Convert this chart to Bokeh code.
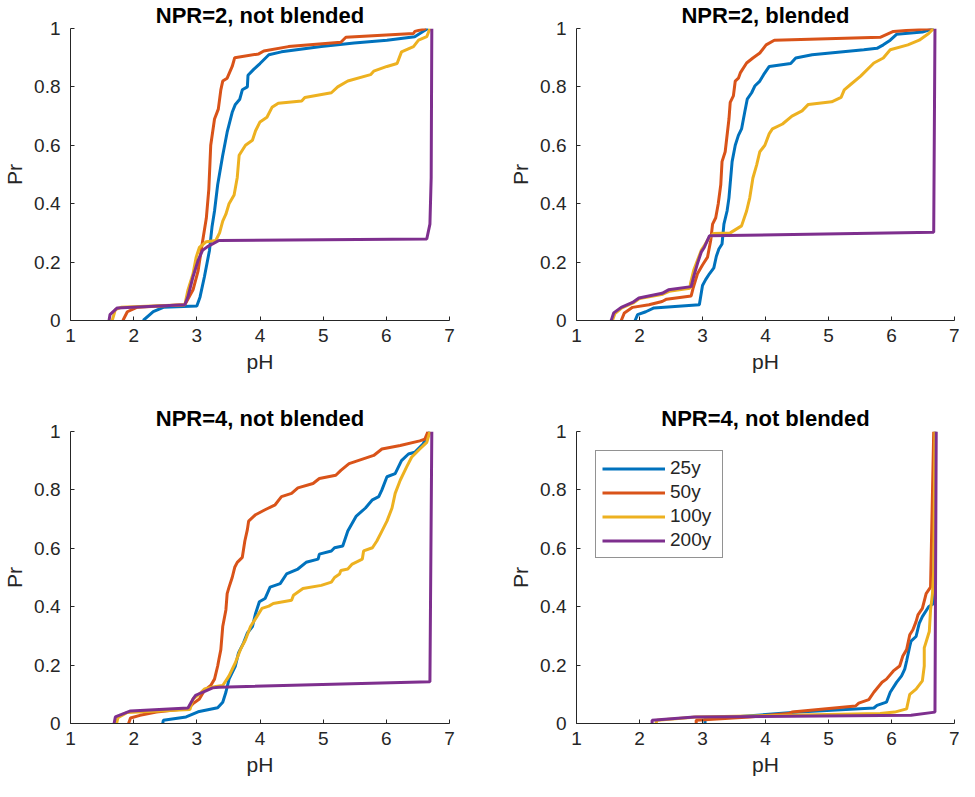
from bokeh.plotting import figure
from bokeh.layouts import column, row
from bokeh.models import FixedTicker, NumeralTickFormatter, Range1d, Legend, LegendItem
from bokeh.embed import file_html
from bokeh.resources import INLINE

FONT = "Liberation Sans"
COLORS = ["#0072BD", "#D95319", "#EDB120", "#7E2F8E"]
SERIES = ["25y", "50y", "100y", "200y"]
TITLES = ["NPR=2, not blended", "NPR=2, blended", "NPR=4, not blended", "NPR=4, not blended"]
X_TICKS = [1, 2, 3, 4, 5, 6, 7]
Y_TICKS = [0, 0.2, 0.4, 0.6, 0.8, 1]

# ---- panel 1: NPR=2, not blended ----
tl_25_x = [2.15, 2.31, 2.47, 3.00, 3.05, 3.12, 3.20, 3.24, 3.28, 3.33, 3.41, 3.48, 3.56, 3.61, 3.68, 3.72, 3.80, 3.81, 3.90, 4.00, 4.14, 4.34, 4.97, 5.49, 6.01, 6.45, 6.58, 6.66]
tl_25_y = [0.0, 0.03, 0.045, 0.05, 0.08, 0.15, 0.24, 0.32, 0.375, 0.465, 0.566, 0.645, 0.713, 0.74, 0.758, 0.79, 0.80, 0.84, 0.86, 0.88, 0.91, 0.92, 0.938, 0.95, 0.96, 0.972, 0.99, 1.0]
tl_50_x = [1.83, 1.90, 2.05, 2.81, 2.94, 3.02, 3.09, 3.15, 3.19, 3.22, 3.28, 3.34, 3.38, 3.41, 3.48, 3.56, 3.60, 3.98, 4.06, 4.45, 5.28, 5.36, 6.43, 6.45, 6.63]
tl_50_y = [0.0, 0.03, 0.045, 0.054, 0.105, 0.17, 0.27, 0.35, 0.45, 0.60, 0.69, 0.724, 0.79, 0.82, 0.83, 0.87, 0.90, 0.913, 0.923, 0.938, 0.953, 0.97, 0.983, 0.99, 1.0]
tl_100_x = [1.66, 1.71, 1.80, 2.81, 2.86, 2.94, 2.99, 3.04, 3.15, 3.30, 3.36, 3.41, 3.46, 3.51, 3.59, 3.64, 3.67, 3.77, 3.88, 3.93, 4.00, 4.11, 4.19, 4.29, 4.66, 4.71, 5.13, 5.23, 5.39, 5.75, 5.80, 6.01, 6.17, 6.24, 6.43, 6.51, 6.64, 6.69]
tl_100_y = [0.0, 0.037, 0.045, 0.054, 0.105, 0.16, 0.217, 0.25, 0.27, 0.274, 0.30, 0.34, 0.364, 0.40, 0.43, 0.49, 0.566, 0.60, 0.617, 0.65, 0.68, 0.696, 0.73, 0.744, 0.752, 0.764, 0.78, 0.80, 0.82, 0.842, 0.854, 0.87, 0.88, 0.92, 0.938, 0.96, 0.972, 1.0]
tl_200_x = [1.61, 1.625, 1.74, 2.81, 2.86, 2.94, 3.02, 3.09, 3.17, 3.35, 6.64, 6.69, 6.71, 6.72]
tl_200_y = [0.0, 0.02, 0.043, 0.054, 0.082, 0.15, 0.206, 0.24, 0.253, 0.274, 0.279, 0.33, 0.49, 1.0]

# ---- panel 2: NPR=2, blended ----
tr_25_x = [1.93, 1.97, 2.10, 2.23, 2.95, 3.00, 3.05, 3.11, 3.18, 3.22, 3.26, 3.31, 3.34, 3.39, 3.42, 3.47, 3.52, 3.57, 3.62, 3.67, 3.71, 3.78, 3.83, 3.91, 3.97, 4.06, 4.40, 4.48, 4.74, 5.56, 5.77, 5.87, 5.98, 6.08, 6.49, 6.67]
tr_25_y = [0.0, 0.02, 0.03, 0.043, 0.054, 0.12, 0.14, 0.16, 0.18, 0.22, 0.245, 0.262, 0.33, 0.375, 0.42, 0.544, 0.60, 0.634, 0.656, 0.713, 0.758, 0.78, 0.803, 0.82, 0.842, 0.87, 0.88, 0.899, 0.91, 0.927, 0.932, 0.944, 0.96, 0.98, 0.988, 1.0]
tr_50_x = [1.71, 1.76, 1.89, 2.15, 2.36, 2.43, 2.82, 2.85, 2.92, 3.00, 3.08, 3.13, 3.16, 3.21, 3.25, 3.29, 3.31, 3.36, 3.42, 3.44, 3.49, 3.52, 3.57, 3.60, 3.70, 3.80, 3.91, 4.01, 4.14, 5.82, 6.03, 6.65]
tr_50_y = [0.0, 0.026, 0.045, 0.054, 0.065, 0.073, 0.084, 0.11, 0.16, 0.19, 0.217, 0.274, 0.33, 0.352, 0.40, 0.465, 0.544, 0.578, 0.69, 0.747, 0.769, 0.82, 0.83, 0.848, 0.882, 0.899, 0.916, 0.944, 0.96, 0.97, 0.99, 1.0]
tr_100_x = [1.57, 1.61, 1.72, 1.90, 2.00, 2.37, 2.47, 2.80, 2.81, 2.86, 2.92, 2.98, 3.03, 3.11, 3.18, 3.44, 3.62, 3.70, 3.75, 3.80, 3.86, 3.91, 3.99, 4.06, 4.11, 4.27, 4.42, 4.58, 4.68, 5.05, 5.20, 5.25, 5.36, 5.51, 5.72, 5.87, 5.98, 6.26, 6.44, 6.59, 6.67]
tr_100_y = [0.0, 0.024, 0.043, 0.06, 0.075, 0.09, 0.10, 0.11, 0.127, 0.172, 0.206, 0.24, 0.257, 0.285, 0.298, 0.30, 0.324, 0.375, 0.42, 0.488, 0.533, 0.578, 0.60, 0.64, 0.656, 0.673, 0.70, 0.718, 0.74, 0.749, 0.764, 0.79, 0.81, 0.837, 0.882, 0.899, 0.927, 0.944, 0.96, 0.983, 1.0]
tr_200_x = [1.55, 1.555, 1.59, 1.71, 1.89, 1.99, 2.36, 2.46, 2.82, 2.86, 2.92, 2.98, 3.03, 3.11, 6.67, 6.69]
tr_200_y = [0.0, 0.003, 0.026, 0.045, 0.062, 0.077, 0.093, 0.105, 0.116, 0.15, 0.195, 0.234, 0.251, 0.29, 0.302, 1.0]

# ---- panel 3: NPR=4, not blended ----
bl_25_x = [2.46, 2.47, 2.83, 3.02, 3.33, 3.41, 3.46, 3.51, 3.61, 3.66, 3.74, 3.80, 3.88, 3.93, 3.99, 4.08, 4.16, 4.32, 4.42, 4.60, 4.73, 4.92, 4.94, 5.13, 5.18, 5.31, 5.39, 5.52, 5.67, 5.78, 5.88, 5.93, 6.01, 6.14, 6.24, 6.35, 6.45, 6.58, 6.66, 6.69]
bl_25_y = [0.0, 0.011, 0.0225, 0.04, 0.054, 0.073, 0.107, 0.152, 0.197, 0.242, 0.276, 0.31, 0.332, 0.377, 0.417, 0.428, 0.467, 0.479, 0.512, 0.529, 0.552, 0.563, 0.58, 0.591, 0.602, 0.608, 0.659, 0.709, 0.738, 0.766, 0.777, 0.80, 0.845, 0.856, 0.90, 0.923, 0.929, 0.957, 0.991, 1.0]
bl_50_x = [1.92, 1.95, 2.10, 2.36, 2.86, 2.94, 3.04, 3.12, 3.22, 3.28, 3.33, 3.35, 3.38, 3.41, 3.46, 3.48, 3.51, 3.56, 3.60, 3.64, 3.72, 3.76, 3.80, 3.82, 3.93, 4.08, 4.24, 4.34, 4.50, 4.60, 4.84, 4.94, 5.20, 5.28, 5.41, 5.80, 5.93, 6.22, 6.53, 6.61, 6.66]
bl_50_y = [0.0, 0.019, 0.028, 0.039, 0.051, 0.068, 0.084, 0.113, 0.13, 0.152, 0.197, 0.22, 0.253, 0.332, 0.389, 0.445, 0.467, 0.50, 0.535, 0.552, 0.569, 0.625, 0.664, 0.693, 0.715, 0.732, 0.749, 0.777, 0.788, 0.807, 0.822, 0.839, 0.85, 0.867, 0.89, 0.918, 0.94, 0.952, 0.968, 0.974, 1.0]
bl_100_x = [1.73, 1.75, 1.90, 2.89, 2.94, 3.04, 3.12, 3.30, 3.41, 3.51, 3.61, 3.69, 3.77, 3.85, 3.95, 4.03, 4.14, 4.21, 4.50, 4.53, 4.68, 4.97, 5.13, 5.18, 5.26, 5.28, 5.39, 5.46, 5.62, 5.64, 5.78, 5.85, 5.93, 6.01, 6.09, 6.14, 6.22, 6.32, 6.40, 6.53, 6.64, 6.69]
bl_100_y = [0.0, 0.02, 0.038, 0.048, 0.084, 0.101, 0.118, 0.127, 0.13, 0.163, 0.208, 0.253, 0.287, 0.332, 0.366, 0.394, 0.402, 0.411, 0.422, 0.439, 0.462, 0.473, 0.484, 0.50, 0.512, 0.524, 0.529, 0.546, 0.563, 0.591, 0.602, 0.625, 0.659, 0.693, 0.738, 0.788, 0.833, 0.878, 0.912, 0.94, 0.963, 1.0]
bl_200_x = [1.69, 1.71, 1.84, 1.95, 2.86, 2.94, 2.98, 3.09, 3.25, 3.35, 6.69, 6.72]
bl_200_y = [0.0, 0.0225, 0.034, 0.043, 0.053, 0.084, 0.096, 0.107, 0.122, 0.124, 0.143, 1.0]

# ---- panel 4: NPR=4, not blended ----
br_25_x = [3.04, 3.04, 3.49, 4.53, 5.72, 5.77, 5.92, 5.98, 6.08, 6.16, 6.21, 6.24, 6.29, 6.31, 6.39, 6.44, 6.49, 6.59, 6.67, 6.69]
br_25_y = [0.0, 0.015, 0.0225, 0.039, 0.053, 0.062, 0.073, 0.107, 0.141, 0.163, 0.186, 0.214, 0.265, 0.282, 0.298, 0.343, 0.366, 0.40, 0.411, 1.0]
br_50_x = [2.90, 2.90, 3.75, 4.37, 4.42, 5.43, 5.48, 5.64, 5.72, 5.85, 5.92, 6.03, 6.13, 6.18, 6.24, 6.29, 6.34, 6.39, 6.42, 6.49, 6.55, 6.62, 6.67]
br_50_y = [0.0, 0.011, 0.0225, 0.034, 0.039, 0.06, 0.07, 0.082, 0.107, 0.141, 0.152, 0.18, 0.197, 0.231, 0.253, 0.304, 0.321, 0.349, 0.372, 0.394, 0.445, 0.467, 1.0]
br_100_x = [2.26, 2.28, 2.90, 5.82, 6.05, 6.24, 6.29, 6.39, 6.49, 6.52, 6.52, 6.56, 6.60, 6.62, 6.65, 6.67, 6.69]
br_100_y = [0.0, 0.011, 0.0225, 0.034, 0.039, 0.05, 0.10, 0.118, 0.146, 0.197, 0.259, 0.287, 0.315, 0.389, 0.445, 0.524, 1.0]
br_200_x = [2.20, 2.20, 2.87, 6.31, 6.69, 6.71]
br_200_y = [0.0, 0.011, 0.0225, 0.028, 0.039, 1.0]

PANELS = [
    [(tl_25_x, tl_25_y), (tl_50_x, tl_50_y), (tl_100_x, tl_100_y), (tl_200_x, tl_200_y)],
    [(tr_25_x, tr_25_y), (tr_50_x, tr_50_y), (tr_100_x, tr_100_y), (tr_200_x, tr_200_y)],
    [(bl_25_x, bl_25_y), (bl_50_x, bl_50_y), (bl_100_x, bl_100_y), (bl_200_x, bl_200_y)],
    [(br_25_x, br_25_y), (br_50_x, br_50_y), (br_100_x, br_100_y), (br_200_x, br_200_y)],
]

AX = "#262626"


def make_panel(title, series, w, h, bl, br, bt, bb, legend=False):
    p = figure(width=w, height=h, x_range=Range1d(1, 7), y_range=Range1d(0, 1),
               output_backend="svg", toolbar_location=None, title=title,
               min_border_left=bl, min_border_right=br,
               min_border_top=bt, min_border_bottom=bb)
    p.title.text_font = FONT
    p.title.text_font_size = "22px"
    p.title.text_font_style = "bold"
    p.title.text_color = "#000000"
    p.title.align = "center"
    p.title.standoff = 1
    p.outline_line_color = None
    p.xgrid.visible = False
    p.ygrid.visible = False
    p.background_fill_color = "white"
    p.border_fill_color = "white"

    p.xaxis.ticker = FixedTicker(ticks=X_TICKS, minor_ticks=[])
    p.yaxis.ticker = FixedTicker(ticks=Y_TICKS, minor_ticks=[])
    p.xaxis.formatter = NumeralTickFormatter(format="0")
    p.yaxis.formatter = NumeralTickFormatter(format="0.[0]")
    p.xaxis.axis_label = "pH"
    p.yaxis.axis_label = "Pr"
    for ax in (p.xaxis, p.yaxis):
        ax.axis_line_color = AX
        ax.axis_line_width = 1
        ax.major_tick_line_color = AX
        ax.major_tick_in = 4
        ax.major_tick_out = 0
        ax.minor_tick_in = 0
        ax.minor_tick_out = 0
        ax.major_label_text_font = FONT
        ax.major_label_text_font_size = "19px"
        ax.major_label_text_color = AX
        ax.axis_label_text_font = FONT
        ax.axis_label_text_font_size = "21px"
        ax.axis_label_text_font_style = "normal"
        ax.axis_label_text_color = AX
    p.xaxis.major_label_standoff = 8
    p.xaxis.axis_label_standoff = 5
    p.yaxis.major_label_standoff = 10
    p.yaxis.axis_label_standoff = 5

    items = []
    for (xs, ys), color, name in zip(series, COLORS, SERIES):
        r = p.line(xs, ys, line_color=color, line_width=3)
        items.append(LegendItem(label=name, renderers=[r]))

    if legend:
        lg = Legend(items=items, location="top_left", margin=19, padding=6,
                    spacing=2, glyph_width=63, glyph_height=21, label_height=21,
                    label_width=46, label_standoff=5, label_text_font=FONT,
                    label_text_font_size="19px", label_text_color=AX,
                    border_line_color=AX, border_line_width=1,
                    background_fill_color="white", background_fill_alpha=1.0)
        p.add_layout(lg)
    return p


p1 = make_panel(TITLES[0], PANELS[0], 506, 403, 65, 57, 27, 83)
p2 = make_panel(TITLES[1], PANELS[1], 453, 403, 65, 5, 27, 83)
p3 = make_panel(TITLES[2], PANELS[2], 506, 378, 65, 57, 27, 58)
p4 = make_panel(TITLES[3], PANELS[3], 453, 378, 65, 5, 27, 58, legend=True)

layout = column(row(p1, p2), row(p3, p4))

open("out.html", "w").write(file_html(layout, INLINE))
